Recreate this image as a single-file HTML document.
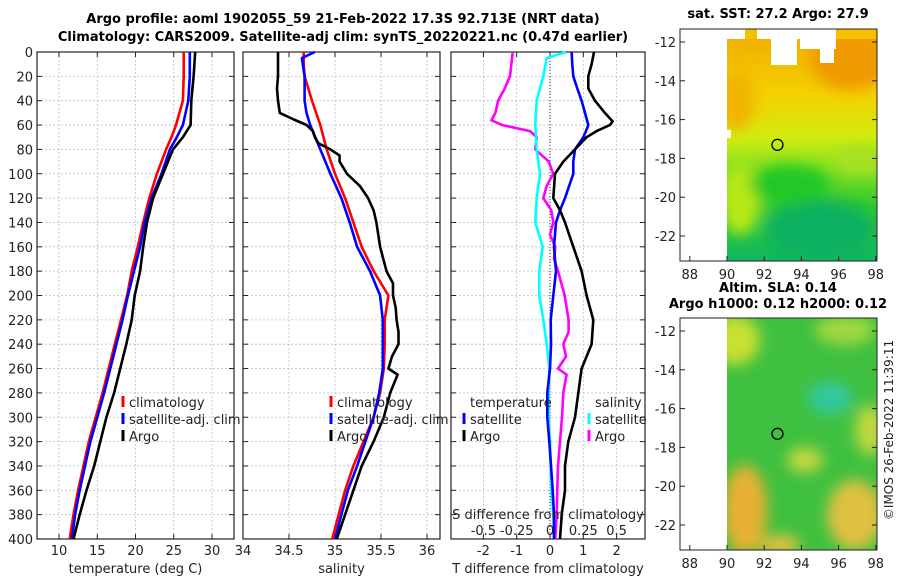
<!DOCTYPE html>
<html><head><meta charset="utf-8">
<style>
html,body{margin:0;padding:0;background:#fff;}
svg{display:block;font-family:"DejaVu Sans","Liberation Sans",sans-serif;}
</style></head>
<body>
<svg id="fig" width="900" height="580" viewBox="0 0 900 580" xmlns="http://www.w3.org/2000/svg">
<defs>
<filter id="blur6" x="-20%" y="-20%" width="140%" height="140%"><feGaussianBlur stdDeviation="7"/></filter>
<clipPath id="clipTop"><rect x="727" y="29" width="150" height="232"/></clipPath>
<clipPath id="clipBot"><rect x="727" y="318" width="150" height="232"/></clipPath>
<linearGradient id="sstGrad" x1="0" y1="0" x2="0" y2="1">
<stop offset="0" stop-color="#f2b000"/><stop offset="0.25" stop-color="#f5d000"/><stop offset="0.45" stop-color="#d0ec10"/><stop offset="0.58" stop-color="#80e020"/><stop offset="0.75" stop-color="#30c830"/><stop offset="1" stop-color="#10b860"/>
</linearGradient>
</defs>
<g font-weight="bold" font-size="13" text-anchor="middle" fill="#000">
<text x="343" y="23">Argo profile: aoml 1902055_59 21-Feb-2022 17.3S 92.713E (NRT data)</text>
<text x="343" y="41">Climatology: CARS2009. Satellite-adj clim: synTS_20220221.nc (0.47d earlier)</text>
</g>
<g id="panels"></g>
<g id="maps"></g>
<text x="0" y="0" font-size="12" fill="#222" text-anchor="middle" transform="translate(893,430) rotate(-90)">©IMOS 26-Feb-2022 11:39:11</text>
</svg>
<script>
// ---------- data ----------
const depthT = [0,20,40,60,70,80,100,120,140,160,180,200,220,240,260,280,300,320,340,360,380,400];
const tempClim = [26.3,26.3,26.2,25.3,24.7,24.0,22.8,21.8,21.0,20.3,19.5,18.9,18.1,17.3,16.5,15.7,14.8,13.9,13.2,12.5,11.9,11.4];
const tempSat  = [27.1,27.1,26.9,26.2,25.4,24.5,23.4,22.1,21.2,20.6,19.8,19.0,18.3,17.5,16.7,15.9,15.0,14.1,13.4,12.7,12.1,11.7];
const depthTA = [0,20,40,60,70,80,100,120,140,160,180,200,220,240,260,280,300,320,340,360,380,400];
const tempArgo = [27.8,27.6,27.3,27.2,26.2,24.9,23.6,22.3,21.5,21.0,20.6,19.9,19.5,18.8,18.0,17.2,16.2,15.4,14.6,13.6,12.7,11.9];
const depthS = [0,10,20,40,60,80,100,120,140,160,180,200,220,240,260,280,300,320,340,360,380,400];
const salClim = [34.66,34.66,34.67,34.75,34.84,34.91,35.0,35.11,35.2,35.29,35.42,35.58,35.54,35.54,35.53,35.49,35.42,35.31,35.2,35.11,35.04,34.97];
const depthSS = [0,5,20,40,50,60,80,100,120,140,160,180,200,220,240,260,280,300,320,340,360,380,400];
const salSat = [34.78,34.64,34.67,34.67,34.69,34.73,34.84,34.95,35.07,35.16,35.24,35.38,35.49,35.52,35.52,35.52,35.48,35.42,35.33,35.24,35.14,35.07,35.0];
const depthSA = [0,20,30,40,50,55,60,65,70,75,80,85,90,100,110,120,130,140,160,180,190,200,210,220,230,240,250,260,265,280,300,320,340,360,380,400];
const salArgo = [34.38,34.38,34.37,34.38,34.40,34.54,34.69,34.76,34.78,34.82,34.95,35.05,35.05,35.13,35.27,35.36,35.42,35.45,35.49,35.56,35.63,35.63,35.66,35.67,35.69,35.69,35.62,35.58,35.68,35.60,35.53,35.42,35.29,35.2,35.11,35.02];
const depthD = [0,10,20,30,40,50,57,60,65,70,80,90,100,120,130,140,160,180,200,220,240,260,280,300,320,340,360,380,400];
const tDiffSat  = [0.65,0.67,0.7,0.82,0.95,1.05,1.12,1.15,1.08,1.0,0.75,0.7,0.7,0.45,0.3,0.18,0.12,0.18,0.1,0.02,0.03,0,-0.08,-0.08,-0.02,0.03,0.08,0.12,0.12];
const tDiffArgo = [1.32,1.25,1.15,1.15,1.35,1.65,1.88,1.8,1.4,1.1,0.75,0.4,0.15,0.1,0.3,0.45,0.7,0.95,1.1,1.3,1.25,0.95,0.85,0.75,0.55,0.45,0.45,0.35,0.3];
const depthDS = [0,5,20,40,60,80,100,120,140,160,180,200,220,240,260,280,300,320,340,360,380,400];
const sDiffSat = [0.12,-0.025,-0.05,-0.1,-0.11,-0.1,-0.075,-0.1,-0.11,-0.055,-0.08,-0.08,-0.05,-0.025,-0.005,-0.01,-0.01,0,0.005,0.01,0.025,0.03];
const depthDA = [0,20,30,40,50,56,60,65,70,80,90,100,110,120,130,140,150,160,170,180,200,220,230,240,250,260,265,280,300,320,340,360,380,400];
const sDiffArgo = [-0.28,-0.3,-0.34,-0.39,-0.41,-0.44,-0.36,-0.15,-0.1,-0.11,-0.01,0.025,-0.025,-0.05,0.01,0.025,0.0,0.04,0.03,0.06,0.11,0.14,0.14,0.1,0.12,0.06,0.125,0.1,0.09,0.075,0.06,0.055,0.05,0.04];
const depthTicks = [0,20,40,60,80,100,120,140,160,180,200,220,240,260,280,300,320,340,360,380,400];
const tempTicks = [10,15,20,25,30];
const salTicks = [34,34.5,35,35.5,36];
const tDiffTicks = [-2,-1,0,1,2];
const sDiffTicks = [-0.5,-0.25,0,0.25,0.5];
const lonTicks = [88,90,92,94,96,98];
const latTicks = [-12,-14,-16,-18,-20,-22];
const argoLon = 92.713, argoLat = -17.3;

// ---------- axes ----------
const NS = "http://www.w3.org/2000/svg";
const Y0 = 52, Y1 = 539;
const yD = d => Y0 + (d/400)*(Y1-Y0);
const xT = t => 59 + (t-10)*7.65;
const xS = s => 335 + (s-35)*92;
const xTD = v => 550 + v*33.3;
const xSD = v => 550 + v*133.2;
const mapX = lon => 727 + (lon-90)*18.6;
const mapYTop = lat => 42 + (-12-lat)*19.4;
const mapYBot = lat => 331 + (-12-lat)*19.4;

function el(tag, attrs, parent){ const e=document.createElementNS(NS,tag); for(const k in attrs) e.setAttribute(k,attrs[k]); if(parent) parent.appendChild(e); return e; }
const panels = document.getElementById('panels');

function panel(name, x0, x1, xTicks, xf, fmt, xlabel, showY){
  const g = el('g',{},panels);
  
  
  xTicks.forEach(v=>{ const x=xf(v); if(x>x0+1&&x<x1-1) el('line',{x1:x,x2:x,y1:Y0,y2:Y1,stroke:'#b8bcd8','stroke-width':0.8,'stroke-dasharray':'2,2'},g); });
  depthTicks.forEach(d=>{ const y=yD(d); el('line',{x1:x0,x2:x1,y1:y,y2:y,stroke:'#b8bcd8','stroke-width':0.8,'stroke-dasharray':'2,2'},g);
    el('line',{x1:x0,x2:x0+5,y1:y,y2:y,stroke:'#222'},g); el('line',{x1:x1-5,x2:x1,y1:y,y2:y,stroke:'#222'},g);
    if(showY){ const t=el('text',{x:x0-4,y:y+5,'font-size':13,'text-anchor':'end',fill:'#222'},g); t.textContent=d; }
  });
  xTicks.forEach(v=>{ const x=xf(v); el('line',{x1:x,x2:x,y1:Y1,y2:Y1-5,stroke:'#222'},g); el('line',{x1:x,x2:x,y1:Y0,y2:Y0+5,stroke:'#222'},g);
    if(fmt){ const t=el('text',{x:x,y:555,'font-size':13,'text-anchor':'middle',fill:'#222'},g); t.textContent=fmt(v); } });
  el('rect',{x:x0,y:Y0,width:x1-x0,height:Y1-Y0,fill:'none',stroke:'#222','stroke-width':1.2},g);
  const lab=el('text',{x:(x0+x1)/2,y:573,'font-size':13,'text-anchor':'middle',fill:'#222'},g); lab.textContent=xlabel;
  return g;
}
function series(g, name, depths, vals, xf, color, w){
  const p = depths.map((d,i)=>xf(vals[i]).toFixed(1)+','+yD(d).toFixed(1)).join(' ');
  const pl = el('polyline',{points:p,fill:'none',stroke:color,'stroke-width':w||2.6,'stroke-linejoin':'round'},g);
  
  
}
function legendEntry(g, name, x, y, color, text){
  const lg = el('g',{},g);
  
  
  el('line',{x1:x,x2:x,y1:y-11,y2:y,stroke:color,'stroke-width':3},lg);
  const t=el('text',{x:x+6,y:y,'font-size':13,fill:'#222'},lg); t.textContent=text;
}

const p1 = panel('temperature-panel', 37, 234, tempTicks, xT, v=>v, 'temperature (deg C)', true);
series(p1,'temp-climatology-line',depthT,tempClim,xT,'#ff0000');
series(p1,'temp-satellite-line',depthT,tempSat,xT,'#0000ff');
series(p1,'temp-argo-line',depthTA,tempArgo,xT,'#000000');
legendEntry(p1,'legend-climatology',123,407,'#ff0000','climatology');
legendEntry(p1,'legend-satellite-adj',123,424,'#0000ff','satellite-adj. clim');
legendEntry(p1,'legend-argo',123,441,'#000','Argo');

const p2 = panel('salinity-panel', 243, 440, salTicks, xS, v=>v, 'salinity', false);
series(p2,'sal-climatology-line',depthS,salClim,xS,'#ff0000');
series(p2,'sal-satellite-line',depthSS,salSat,xS,'#0000ff');
series(p2,'sal-argo-line',depthSA,salArgo,xS,'#000000');
legendEntry(p2,'legend-climatology-sal',331,407,'#ff0000','climatology');
legendEntry(p2,'legend-satellite-adj-sal',331,424,'#0000ff','satellite-adj. clim');
legendEntry(p2,'legend-argo-sal',331,441,'#000','Argo');

const p3 = panel('difference-panel', 451, 645, tDiffTicks, xTD, v=>v, 'T difference from climatology', false);
el('line',{x1:xTD(0),x2:xTD(0),y1:Y0,y2:Y1,stroke:'#333','stroke-width':1,'stroke-dasharray':'1,2'},p3);
series(p3,'s-diff-argo-line',depthDA,sDiffArgo,xSD,'#ff00ff');
series(p3,'s-diff-satellite-line',depthDS,sDiffSat,xSD,'#00ffff');
series(p3,'t-diff-satellite-line',depthD,tDiffSat,xTD,'#0000ff');
series(p3,'t-diff-argo-line',depthD,tDiffArgo,xTD,'#000000');
const st=el('text',{x:548,y:519,'font-size':13,'text-anchor':'middle',fill:'#222'},p3); st.textContent='S difference from climatology';
sDiffTicks.forEach(v=>{ const t=el('text',{x:xSD(v),y:535,'font-size':13,'text-anchor':'middle',fill:'#222'},p3); t.textContent=v; });
const lt1=el('text',{x:470,y:407,'font-size':13,fill:'#222'},p3); lt1.textContent='temperature';
const lt2=el('text',{x:595,y:407,'font-size':13,fill:'#222'},p3); lt2.textContent='salinity';
legendEntry(p3,'legend-t-satellite',464,424,'#0000ff','satellite');
legendEntry(p3,'legend-t-argo',464,441,'#000','Argo');
legendEntry(p3,'legend-s-satellite',589,424,'#00ffff','satellite');
legendEntry(p3,'legend-s-argo',589,441,'#ff00ff','Argo');

// ---------- maps ----------
const maps = document.getElementById('maps');
function mapAxes(name, title, titleLines){
  const g = el('g',{},maps);
  
  
  titleLines.forEach((s,i)=>{ const t=el('text',{x:778,y:title+i*16,'font-size':13,'font-weight':'bold','text-anchor':'middle',fill:'#000'},g); t.textContent=s; });
  return g;
}
function mapFrame(g, top, yf){
  el('rect',{x:680,y:top,width:197,height:232,fill:'none',stroke:'#222','stroke-width':1},g);
  lonTicks.forEach(v=>{ const x=mapX(v); el('line',{x1:x,x2:x,y1:top+232,y2:top+227,stroke:'#222'},g);
    const t=el('text',{x:x,y:top+250,'font-size':13,'text-anchor':'middle',fill:'#222'},g); t.textContent=v; });
  latTicks.forEach(v=>{ const y=yf(v); el('line',{x1:680,x2:685,y1:y,y2:y,stroke:'#222'},g); el('line',{x1:872,x2:877,y1:y,y2:y,stroke:'#222'},g);
    const t=el('text',{x:676,y:y+5,'font-size':13,'text-anchor':'end',fill:'#222'},g); t.textContent=v; });
  const c=el('circle',{cx:mapX(argoLon),cy:yf(argoLat),r:5.5,fill:'none',stroke:'#000','stroke-width':1.3},g);
  
  
}
// top SST map
const m1 = mapAxes('sst-map',18,['sat. SST: 27.2 Argo: 27.9']);
const f1 = el('g',{'clip-path':'url(#clipTop)'},m1);
el('rect',{x:727,y:39,width:150,height:222,fill:'url(#sstGrad)'},f1);
const bl1 = el('g',{filter:'url(#blur6)'},f1);
el('ellipse',{cx:850,cy:60,rx:40,ry:30,fill:'#ee9a00'},bl1);
el('ellipse',{cx:735,cy:100,rx:20,ry:30,fill:'#f0b400'},bl1);
el('ellipse',{cx:740,cy:200,rx:20,ry:35,fill:'#b8e818'},bl1);
el('ellipse',{cx:820,cy:230,rx:55,ry:30,fill:'#10b060'},bl1);
el('ellipse',{cx:790,cy:185,rx:40,ry:20,fill:'#20c828'},bl1);
el('ellipse',{cx:860,cy:160,rx:25,ry:15,fill:'#a8e020'},bl1);
el('rect',{x:727,y:29,width:150,height:10,fill:'#f5c000'},f1);
el('rect',{x:727,y:29,width:18,height:10,fill:'#fff'},f1);
el('rect',{x:757,y:29,width:58,height:10,fill:'#fff'},f1);
el('rect',{x:771,y:39,width:26,height:26,fill:'#fff'},f1);
el('rect',{x:800,y:29,width:36,height:20,fill:'#fff'},f1);
el('rect',{x:820,y:45,width:14,height:18,fill:'#fff'},f1);
el('rect',{x:727,y:130,width:4,height:8,fill:'#fff'},f1);
mapFrame(m1,29,mapYTop);
// bottom SLA map
const m2 = mapAxes('sla-map',292,['Altim. SLA: 0.14','Argo h1000: 0.12 h2000: 0.12']);
const f2 = el('g',{'clip-path':'url(#clipBot)'},m2);
el('rect',{x:727,y:318,width:150,height:232,fill:'#40c040'},f2);
const bl2 = el('g',{filter:'url(#blur6)'},f2);
el('ellipse',{cx:735,cy:340,rx:25,ry:25,fill:'#c8e030'},bl2);
el('ellipse',{cx:845,cy:330,rx:30,ry:15,fill:'#a0d840'},bl2);
el('ellipse',{cx:830,cy:398,rx:22,ry:16,fill:'#30c8a0'},bl2);
el('ellipse',{cx:745,cy:510,rx:22,ry:45,fill:'#e8b030'},bl2);
el('ellipse',{cx:855,cy:515,rx:28,ry:35,fill:'#e0c040'},bl2);
el('ellipse',{cx:805,cy:460,rx:18,ry:12,fill:'#c8d840'},bl2);
el('ellipse',{cx:870,cy:430,rx:15,ry:25,fill:'#c0d840'},bl2);
el('ellipse',{cx:780,cy:545,rx:20,ry:10,fill:'#e8c040'},bl2);
mapFrame(m2,318,mapYBot);
</script>
</body></html>
